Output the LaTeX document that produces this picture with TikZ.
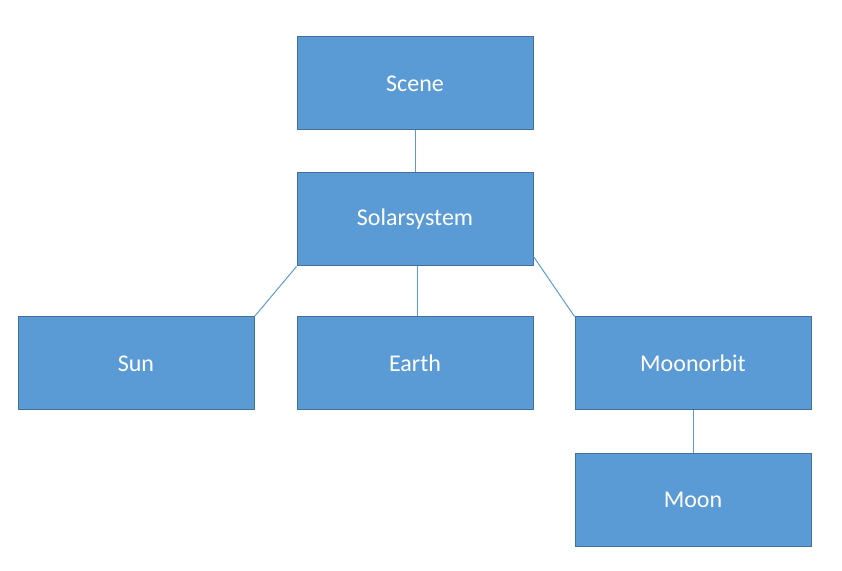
\documentclass[tikz,border=0pt]{standalone}
\usepackage{fontspec}
\setmainfont{Carlito}
\definecolor{boxfill}{HTML}{5B9BD5}
\definecolor{boxline}{HTML}{41719C}
\begin{document}
\begin{tikzpicture}[x=1pt,y=1pt,
  box/.style={draw=boxline,line width=1pt,fill=boxfill,minimum width=236pt,minimum height=93pt,inner sep=0pt,text=white,font=\fontsize{24}{28}\selectfont},
  link/.style={draw=boxfill,line width=1pt}]
\useasboundingbox (0,0) rectangle (842,570);
\node[box] (scene) at (415,486.5) {Scene};
\node[box] (solar) at (415,350.5) {Solarsystem};
\node[box] (sun) at (136,206.5) {Sun};
\node[box] (earth) at (415,206.5) {Earth};
\node[box] (moonorbit) at (693,206.5) {Moonorbit};
\node[box] (moon) at (693,70.5) {Moon};
\draw[link] (scene.south) -- (solar.north);
\draw[link] (solar.south west) -- (sun.north east);
\draw[link] ([xshift=2pt]solar.south) -- ([xshift=2pt]earth.north);
\draw[link] ([yshift=10pt]solar.south east) -- (moonorbit.north west);
\draw[link] (moonorbit.south) -- (moon.north);
\end{tikzpicture}
\end{document}
